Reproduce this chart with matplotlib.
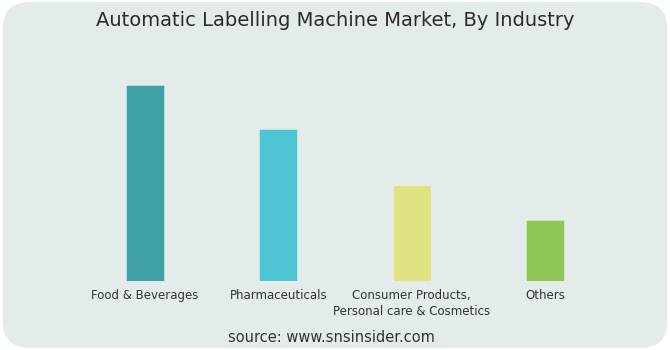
import matplotlib
matplotlib.use('Agg')
import matplotlib.pyplot as plt
from matplotlib.patches import FancyBboxPatch

categories = ['Food & Beverages', 'Pharmaceuticals',
              'Consumer Products,\nPersonal care & Cosmetics', 'Others']
shares = [38.8, 30.1, 19.0, 12.1]
colors = ['#3fa0a6', '#4dc5d2', '#dde283', '#8fc552']

bg = '#e3ecea'

fig = plt.figure(figsize=(6.7, 3.5), dpi=100)
fig.patch.set_facecolor('white')

# rounded background panel, kept behind the axes
panel = FancyBboxPatch((0.004, 0.006), 0.992, 0.988,
                       boxstyle='round,pad=0,rounding_size=0.04',
                       transform=fig.transFigure, facecolor=bg,
                       edgecolor='none', mutation_aspect=6.7 / 3.5,
                       zorder=-10)
fig.patches.append(panel)

ax = fig.add_axes([0.0, 69 / 350, 1.0, 221 / 350])
ax.set_facecolor('none')
ax.set_zorder(5)

x = range(len(categories))
ax.bar(x, shares, width=0.285, color=colors, edgecolor='#ffffff80',
       linewidth=0.5)

ax.set_xlim(-145 / 133.33, (670 - 145) / 133.33)
ax.set_ylim(0, 43.75)
ax.set_xticks(list(x))
ax.set_xticklabels(categories, fontsize=8.5, color='#333333',
                   linespacing=1.3)
ax.tick_params(axis='x', length=0, pad=6)
ax.set_yticks([])
for s in ax.spines.values():
    s.set_visible(False)

fig.text(0.5, 1 - 20 / 350, 'Automatic Labelling Machine Market, By Industry',
         ha='center', va='center', fontsize=14, color='#2b2b2b')
fig.text(331 / 670, 1 - 337 / 350, 'source: www.snsinsider.com',
         ha='center', va='center', fontsize=10.5, color='#333333')

fig.savefig('out.png', dpi=100, facecolor=fig.get_facecolor())
